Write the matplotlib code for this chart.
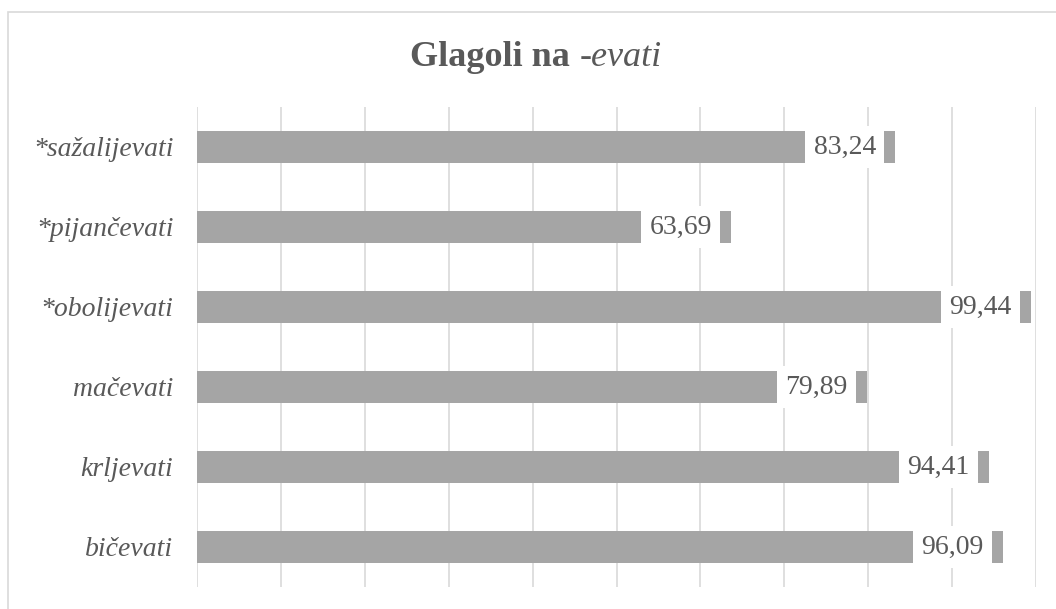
import matplotlib.pyplot as plt
from matplotlib.patches import Rectangle

glagoli = ['*sažalijevati', '*pijančevati', '*obolijevati', 'mačevati', 'krljevati', 'bičevati']
vrijednosti = [83.24, 63.69, 99.44, 79.89, 94.41, 96.09]
x_ticks = list(range(0, 101, 10))

siva = '#595959'

fig = plt.figure(figsize=(10.56, 6.09), dpi=100)
ax = fig.add_axes([197 / 1056, 22 / 609, 839 / 1056, 480 / 609])

# okvir grafikona
fig.patches.append(Rectangle((8 / 1056, -0.1), 1.2, (609 - 12) / 609 + 0.1,
                             transform=fig.transFigure, fill=False,
                             ec='#d9d9d9', lw=1.2))

y = list(range(len(glagoli)))
ax.barh(y, vrijednosti, height=0.39, color='#a5a5a5', zorder=2)

for yi, v in zip(y, vrijednosti):
    ax.annotate(f'{v:.2f}'.replace('.', ','), xy=(v, yi), xytext=(-14, 0),
                textcoords='offset points', ha='right', va='center',
                fontsize=20, family='Liberation Serif', color=siva,
                bbox=dict(boxstyle='square,pad=0.3', fc='white', ec='none'),
                zorder=3)

ax.set_xlim(0, 100)
ax.set_ylim(len(glagoli) - 0.5, -0.5)
ax.set_xticks(x_ticks)
ax.set_xticklabels([])
ax.set_yticks(y)
ax.set_yticklabels(glagoli, family='Liberation Serif', style='italic',
                   fontsize=20, color=siva)
ax.tick_params(length=0, pad=17)
ax.grid(axis='x', color='#d9d9d9', lw=1.2, zorder=0)
for s in ax.spines.values():
    s.set_visible(False)

# naslov: dio uspravno masno, dio kurzivom
y_nasl = 1 - 66 / 609
t1 = fig.text(0, y_nasl, 'Glagoli na ', ha='left', va='baseline', fontsize=26,
              family='Liberation Serif', weight='bold', color=siva)
t2 = fig.text(0, y_nasl, '-evati', ha='left', va='baseline', fontsize=26,
              family='Liberation Serif', style='italic', color=siva)
r = fig.canvas.get_renderer()
w1 = t1.get_window_extent(r).width
w2 = t2.get_window_extent(r).width
x0 = 536 - (w1 + w2) / 2
t1.set_x(x0 / 1056)
t2.set_x((x0 + w1) / 1056)

fig.savefig('out.png', dpi=100)
